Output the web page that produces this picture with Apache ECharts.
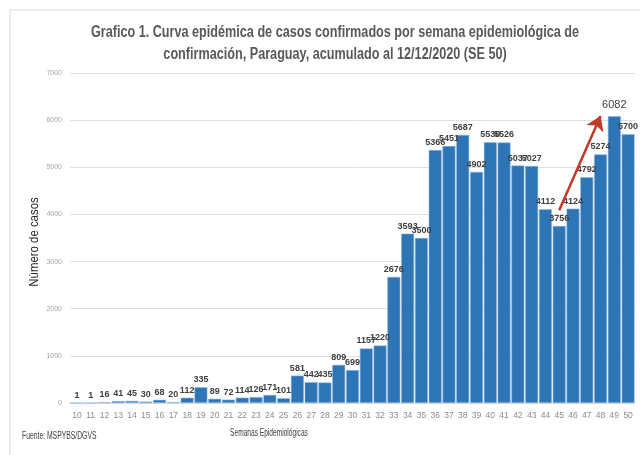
<!DOCTYPE html>
<html>
<head>
<meta charset="utf-8">
<script src="https://cdn.jsdelivr.net/npm/echarts@6/dist/echarts.min.js"></script>
<style>html,body{margin:0;padding:0;background:#fff}#c{width:640px;height:455px}</style>
</head>
<body>
<div id="c"></div>
<script>
const weeks = ['10','11','12','13','14','15','16','17','18','19','20','21','22','23','24','25','26','27','28','29','30','31','32','33','34','35','36','37','38','39','40','41','42','43','44','45','46','47','48','49','50'];
const cases = [1,1,16,41,45,30,68,20,112,335,89,72,114,126,171,101,581,442,435,809,699,1157,1220,2676,3593,3500,5366,5451,5687,4902,5530,5526,5037,5027,4112,3756,4124,4792,5274,6082,5700];
const yTicks = [0,1000,2000,3000,4000,5000,6000,7000];
const titleLines = ['Grafico 1. Curva epidémica de casos confirmados por semana epidemiológica de', 'confirmación, Paraguay, acumulado al 12/12/2020 (SE 50)'];
const yName = 'Número de casos';
const xName = 'Semanas Epidemiológicas';
const source = 'Fuente: MSPYBS/DGVS';
// trend arrow annotation (from week 45 toward peak)
const arrowFrom = ['45', 4090];
const arrowTo = [37.7, 6090];

const FONT = '"Liberation Sans", sans-serif';
const maxVal = Math.max(...cases);
const chart = echarts.init(document.getElementById('c'), null, {renderer: 'canvas'});
chart.setOption({
  animation: false,
  textStyle: {fontFamily: FONT},
  grid: {left: 70, right: 5, top: 73, bottom: 52, containLabel: false},
  xAxis: {
    type: 'category', data: weeks,
    axisLine: {lineStyle: {color: '#d9d9d9'}},
    axisTick: {show: false},
    axisLabel: {color: '#8c8c8c', fontSize: 8.5, margin: 8, interval: 0, fontFamily: FONT}
  },
  yAxis: {
    type: 'value', min: yTicks[0], max: yTicks[yTicks.length-1], interval: 1000,
    axisLine: {show: false}, axisTick: {show: false},
    axisLabel: {color: '#a6a6a6', fontSize: 7, margin: 8, fontFamily: FONT, formatter: v => String(v)},
    splitLine: {lineStyle: {color: '#e0e0e0', width: 1}}
  },
  series: [{
    type: 'bar',
    data: cases.map(v => v === maxVal ? {value: v, label: {fontSize: 11, fontWeight: 'normal', distance: 6}} : v),
    barCategoryGap: '6%',
    itemStyle: {color: '#2e75b6', borderColor: '#8db8e0', borderWidth: 0.6},
    label: {show: true, position: 'top', distance: 3, color: '#404040', fontSize: 9, fontWeight: 'bold', fontFamily: FONT},
    markLine: {
      silent: true,
      symbol: ['none', 'arrow'], symbolSize: 14,
      label: {show: false},
      lineStyle: {color: '#c0392b', width: 2.5, type: 'solid'},
      data: [[{coord: arrowFrom}, {coord: arrowTo}]]
    }
  }],
  graphic: [
    {type: 'rect', z: -1, shape: {x: 10, y: 10, width: 700, height: 500}, style: {fill: 'none', stroke: '#d9d9d9', lineWidth: 1}},
    {type: 'text', x: 335, y: 33, scaleX: 0.79, style: {text: titleLines[0], font: 'bold 16px ' + FONT, fill: '#595959', align: 'center', verticalAlign: 'middle'}},
    {type: 'text', x: 335, y: 55, scaleX: 0.79, style: {text: titleLines[1], font: 'bold 16px ' + FONT, fill: '#595959', align: 'center', verticalAlign: 'middle'}},
    {type: 'text', x: 35, y: 242, rotation: Math.PI/2, scaleX: 0.95, style: {text: yName, font: '12px ' + FONT, fill: '#262626', align: 'center', verticalAlign: 'middle'}},
    {type: 'text', x: 269, y: 433, scaleX: 0.66, style: {text: xName, font: '10px ' + FONT, fill: '#404040', align: 'center', verticalAlign: 'middle'}},
    {type: 'text', x: 22, y: 436, scaleX: 0.68, style: {text: source, font: '10px ' + FONT, fill: '#404040', align: 'left', verticalAlign: 'middle'}}
  ]
});
</script>
</body>
</html>
